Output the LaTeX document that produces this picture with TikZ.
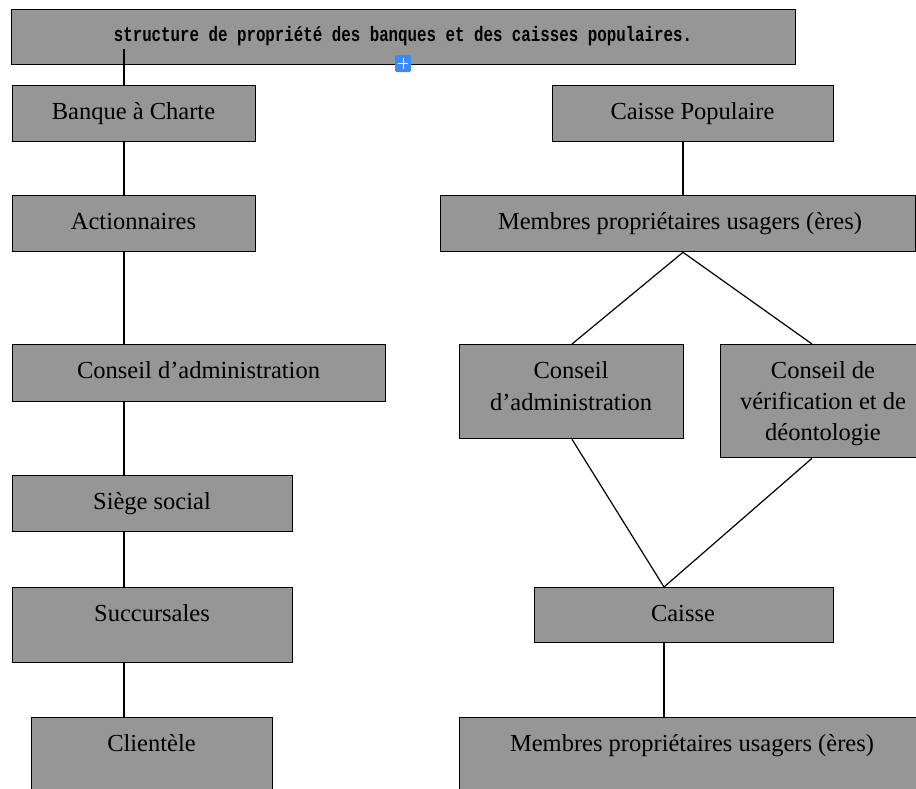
\documentclass[tikz,border=0pt]{standalone}
\usepackage{fontspec}
\setmainfont{Liberation Serif}
\newfontfamily\titlefont{Liberation Mono}
\definecolor{boxgray}{RGB}{150,150,150}
\definecolor{iconblue}{RGB}{61,139,240}
\begin{document}
\begin{tikzpicture}[x=1pt,y=-1pt,
  box/.style={draw=black, fill=boxgray, line width=1.3pt, anchor=north west, inner sep=0pt},
  lbl/.style={anchor=base, inner sep=0pt, font=\fontsize{24.5}{31}\selectfont},
  ttl/.style={anchor=base, inner sep=0pt, font=\titlefont\bfseries\fontsize{15.8}{18}\selectfont},
  link/.style={draw=black, line width=1.2pt}]
\useasboundingbox (0,0) rectangle (916,788);
\begin{scope}
\clip (0,0) rectangle (916,788);
% boxes
\node[box, minimum width=784pt, minimum height=55pt] (title) at (11,9) {};
\node[box, minimum width=243pt, minimum height=56pt] (banque) at (12,85) {};
\node[box, minimum width=243pt, minimum height=56pt] (act) at (12,195) {};
\node[box, minimum width=373pt, minimum height=57pt] (cadm) at (12,344) {};
\node[box, minimum width=280pt, minimum height=56pt] (siege) at (12,475) {};
\node[box, minimum width=280pt, minimum height=75pt] (succ) at (12,587) {};
\node[box, minimum width=241pt, minimum height=90pt] (client) at (31,717) {};
\node[box, minimum width=281pt, minimum height=56pt] (cp) at (552,85) {};
\node[box, minimum width=475pt, minimum height=56pt] (mem1) at (440,195) {};
\node[box, minimum width=224pt, minimum height=94pt] (cadm2) at (459,344) {};
\node[box, minimum width=210pt, minimum height=113pt] (verif) at (720,344) {};
\node[box, minimum width=299pt, minimum height=55pt] (caisse) at (534,587) {};
\node[box, minimum width=470pt, minimum height=90pt] (mem2) at (459,717) {};
% texts
\node[ttl] (ttitle) at (403,41) {\scalebox{1}[1.32]{structure de propriété des banques et des caisses populaires.}};
\node[lbl] (tbanque) at (133.5,119) {Banque à Charte};
\node[lbl] (tact) at (133.5,229) {Actionnaires};
\node[lbl] (tcadm) at (198.5,378) {Conseil d’administration};
\node[lbl] (tsiege) at (152,509) {Siège social};
\node[lbl] (tsucc) at (152,621) {Succursales};
\node[lbl] (tclient) at (151.5,751) {Clientèle};
\node[lbl] (tcp) at (692.5,119) {Caisse Populaire};
\node[lbl] (tmem1) at (680,229) {Membres propriétaires usagers (ères)};
\node[lbl] (tcadm2a) at (571,378) {Conseil};
\node[lbl] (tcadm2b) at (571,410) {d’administration};
\node[lbl] (tverifa) at (823,378) {Conseil de};
\node[lbl] (tverifb) at (823,409) {vérification et de};
\node[lbl] (tverifc) at (823,440) {déontologie};
\node[lbl] (tcaisse) at (683,621) {Caisse};
\node[lbl] (tmem2) at (692,751) {Membres propriétaires usagers (ères)};
% connector columns
\coordinate (lx) at (124,0);
\coordinate (t0) at (124,49);
\coordinate (rx) at (683,0);
\coordinate (a1) at (572,0);
\coordinate (a2) at (812,0);
\coordinate (cx) at (664,0);
% left chain
\draw[link] (t0) -- (banque.north -| lx);
\draw[link] (banque.south -| lx) -- (act.north -| lx);
\draw[link] (act.south -| lx) -- (cadm.north -| lx);
\draw[link] (cadm.south -| lx) -- (siege.north -| lx);
\draw[link] (siege.south -| lx) -- (succ.north -| lx);
\draw[link] (succ.south -| lx) -- (client.north -| lx);
% right chain
\draw[link] (cp.south -| rx) -- (mem1.north -| rx);
\draw[link] (mem1.south -| rx) -- (cadm2.north -| a1);
\draw[link] (mem1.south -| rx) -- (verif.north -| a2);
\draw[link] (cadm2.south -| a1) -- (caisse.north -| cx);
\draw[link] (verif.south -| a2) -- (caisse.north -| cx);
\draw[link] (caisse.south -| cx) -- (mem2.north -| cx);
% editor plus icon
\fill[iconblue, rounded corners=1.5pt] (395,55) rectangle (411,72);
\draw[white, line width=1pt] (403,58) -- (403,69) (398,63.5) -- (408,63.5);
\end{scope}
\end{tikzpicture}
\end{document}
